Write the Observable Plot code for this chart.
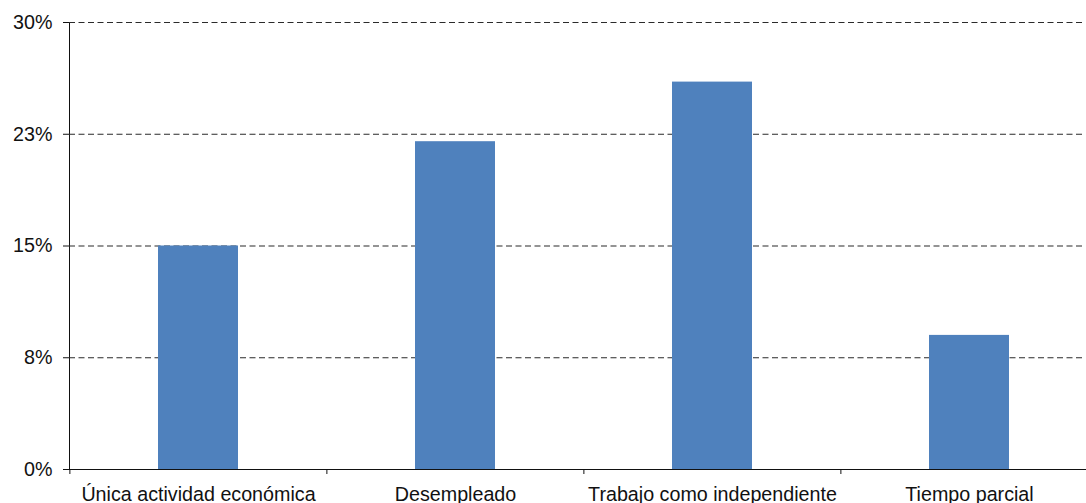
<!DOCTYPE html>
<html>
<head>
<meta charset="utf-8">
<script src="https://cdn.jsdelivr.net/npm/d3@7"></script>
<script src="https://cdn.jsdelivr.net/npm/@observablehq/plot@0.6"></script>
<style>
  html, body { margin: 0; padding: 0; background: #fff; overflow: hidden; }
</style>
</head>
<body>
<div id="chart"></div>
<script>
// Categories and their shares (%)
const categories = [
  "Única actividad económica",
  "Desempleado",
  "Trabajo como independiente",
  "Tiempo parcial"
];
const shares = [15.0, 22.0, 26.0, 9.0];

// Y axis ticks and their printed labels
const yTicks = [0, 7.5, 15, 22.5, 30];
const yTickLabels = ["0%", "8%", "15%", "23%", "30%"];

const rows = categories.map((c, i) => ({category: c, share: shares[i]}));
const labelOf = new Map(yTicks.map((t, i) => [t, yTickLabels[i]]));

const xRange = [69, 1098];
const step = (xRange[1] - xRange[0]) / categories.length;

const chart = Plot.plot({
  width: 1086,
  height: 503,
  marginTop: 22,
  marginBottom: 34,
  marginLeft: 69,
  marginRight: 0,
  style: {
    fontFamily: "'Liberation Sans', Arial, sans-serif",
    fontSize: "19.7px",
    color: "#111",
    background: "#fff"
  },
  x: {
    domain: categories,
    range: xRange,
    paddingInner: 0.69,
    paddingOuter: 0.345,
    axis: "bottom",
    tickSize: 0,
    tickPadding: 17,
    label: null
  },
  y: {
    domain: [0, 30],
    ticks: yTicks,
    tickFormat: d => labelOf.get(d),
    tickSize: 6,
    tickPadding: 11,
    line: true,
    label: null
  },
  marks: [
    // dashed horizontal gridlines
    Plot.ruleY(yTicks.filter(t => t > 0), {
      stroke: "#2b2b2b",
      strokeWidth: 1.2,
      strokeDasharray: "6,3.5",
      insetRight: 4
    }),
    Plot.barY(rows, {x: "category", y: "share", fill: "#4F81BD"}),
    // baseline
    Plot.ruleY([0], {stroke: "#111", strokeWidth: 1.2}),
    // tick marks at category boundaries
    Plot.ruleX(categories, {x: d => d, y1: 0, y2: 0, dx: -step / 2, insetBottom: -5, stroke: "#111"}),
    Plot.ruleX(categories.slice(-1), {x: d => d, y1: 0, y2: 0, dx: step / 2, insetBottom: -5, stroke: "#111"})
  ]
});

document.getElementById("chart").appendChild(chart);
</script>
</body>
</html>
